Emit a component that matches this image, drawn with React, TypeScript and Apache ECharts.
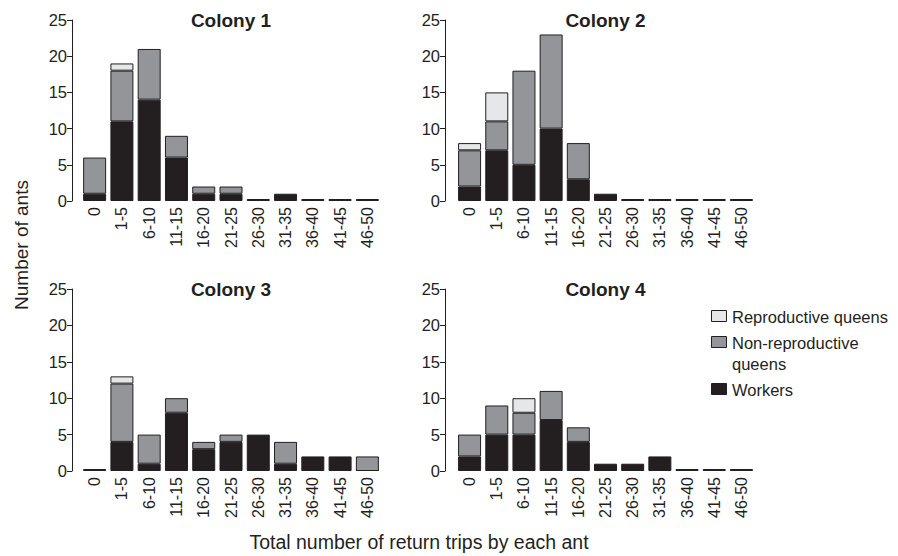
import React, { useEffect, useRef } from "react";
import * as echarts from "echarts";

const categories = ["0", "1-5", "6-10", "11-15", "16-20", "21-25", "26-30", "31-35", "36-40", "41-45", "46-50"];
const colonyNames = ["Colony 1", "Colony 2", "Colony 3", "Colony 4"];
const yTicks = [0, 5, 10, 15, 20, 25];

const c1Workers = [1, 11, 14, 6, 1, 1, 0, 1, 0, 0, 0];
const c1NonRepro = [5, 7, 7, 3, 1, 1, 0, 0, 0, 0, 0];
const c1Repro = [0, 1, 0, 0, 0, 0, 0, 0, 0, 0, 0];

const c2Workers = [2, 7, 5, 10, 3, 1, 0, 0, 0, 0, 0];
const c2NonRepro = [5, 4, 13, 13, 5, 0, 0, 0, 0, 0, 0];
const c2Repro = [1, 4, 0, 0, 0, 0, 0, 0, 0, 0, 0];

const c3Workers = [0, 4, 1, 8, 3, 4, 5, 1, 2, 2, 0];
const c3NonRepro = [0, 8, 4, 2, 1, 1, 0, 3, 0, 0, 2];
const c3Repro = [0, 1, 0, 0, 0, 0, 0, 0, 0, 0, 0];

const c4Workers = [2, 5, 5, 7, 4, 1, 1, 2, 0, 0, 0];
const c4NonRepro = [3, 4, 3, 4, 2, 0, 0, 0, 0, 0, 0];
const c4Repro = [0, 0, 2, 0, 0, 0, 0, 0, 0, 0, 0];

const legendNames = ["Reproductive queens", "Non-reproductive\nqueens", "Workers"];

const INK = "#231f20";
const GRAY = "#939598";
const LIGHT = "#e6e7e8";
const FONT = "'Liberation Sans', Arial, sans-serif";

const colonies = [
  { w: c1Workers, n: c1NonRepro, r: c1Repro },
  { w: c2Workers, n: c2NonRepro, r: c2Repro },
  { w: c3Workers, n: c3NonRepro, r: c3Repro },
  { w: c4Workers, n: c4NonRepro, r: c4Repro },
];

const grids = [
  { left: 81, top: 20, width: 300, height: 181, off: 9 },
  { left: 456, top: 20, width: 299, height: 181, off: 11 },
  { left: 81, top: 289, width: 300, height: 182, off: 9 },
  { left: 456, top: 289, width: 299, height: 182, off: 11 },
];

export default function App() {
  const ref = useRef<HTMLDivElement>(null);
  useEffect(() => {
    if (!ref.current) return;
    const chart = echarts.init(ref.current, null, { renderer: "svg" });
    const nz = (arr: number[]) => arr.map((v) => (v === 0 ? "-" : v));
    const series: any[] = [];
    colonies.forEach((c, i) => {
      const common = {
        type: "bar",
        stack: "c" + i,
        xAxisIndex: i,
        yAxisIndex: i,
        barWidth: 23,
        silent: true,
      };
      series.push({
        ...common,
        name: "Workers",
        data: c.w,
        barMinHeight: 2,
        itemStyle: { color: INK, borderColor: INK, borderWidth: 1 },
      });
      series.push({
        ...common,
        name: "Non-reproductive queens",
        data: nz(c.n),
        itemStyle: { color: GRAY, borderColor: INK, borderWidth: 1 },
      });
      series.push({
        ...common,
        name: "Reproductive queens",
        data: nz(c.r),
        itemStyle: { color: LIGHT, borderColor: INK, borderWidth: 1 },
      });
    });

    const legendColors = [LIGHT, GRAY, INK];
    const legendY = [316, 342, 389];
    const legendGraphics: any[] = [];
    legendNames.forEach((name, i) => {
      legendGraphics.push({
        type: "rect",
        shape: { x: 711.5, y: legendY[i] - 5.5, width: 15, height: 11 },
        style: { fill: legendColors[i], stroke: INK, lineWidth: 1 },
      });
      legendGraphics.push({
        type: "text",
        x: 732,
        y: legendY[i] - 10,
        style: {
          text: name,
          fill: INK,
          font: "16.5px " + FONT,
          lineHeight: 21,
          textAlign: "left",
          textVerticalAlign: "top",
        },
      });
    });

    chart.setOption({
      animation: false,
      backgroundColor: "#ffffff",
      textStyle: { fontFamily: FONT },
      title: colonyNames.map((t, i) => ({
        text: t,
        left: grids[i].left + grids[i].width / 2,
        top: grids[i].top - 9,
        textAlign: "center",
        padding: 0,
        textStyle: { fontFamily: FONT, fontWeight: "bold", fontSize: 19, color: INK },
      })),
      grid: grids.map((g) => ({ left: g.left, top: g.top, width: g.width, height: g.height })),
      xAxis: grids.map((g, i) => ({
        type: "category",
        gridIndex: i,
        data: categories,
        axisLine: { show: false },
        axisTick: { show: false },
        axisLabel: { rotate: 90, fontSize: 16, color: INK, margin: 6, fontFamily: FONT },
      })),
      yAxis: grids.map((g, i) => ({
        type: "value",
        gridIndex: i,
        min: yTicks[0],
        max: yTicks[yTicks.length - 1],
        interval: 5,
        offset: g.off,
        splitLine: { show: false },
        axisLine: { show: true, lineStyle: { color: INK, width: 1 } },
        axisTick: { show: true, length: 5, lineStyle: { color: INK } },
        axisLabel: { fontSize: 16.5, color: INK, margin: 5, fontFamily: FONT },
      })),
      series,
      graphic: [
        {
          type: "text",
          x: 21,
          y: 245,
          rotation: Math.PI / 2,
          style: {
            text: "Number of ants",
            fill: INK,
            font: "19px " + FONT,
            textAlign: "center",
            textVerticalAlign: "middle",
          },
        },
        {
          type: "text",
          x: 419,
          y: 542,
          style: {
            text: "Total number of return trips by each ant",
            fill: INK,
            font: "19.5px " + FONT,
            textAlign: "center",
            textVerticalAlign: "middle",
          },
        },
        ...legendGraphics,
      ],
    });
    return () => chart.dispose();
  }, []);
  return (
    <div
      ref={ref}
      style={{ position: "fixed", left: 0, top: 0, width: 898, height: 556, background: "#fff" }}
    />
  );
}
